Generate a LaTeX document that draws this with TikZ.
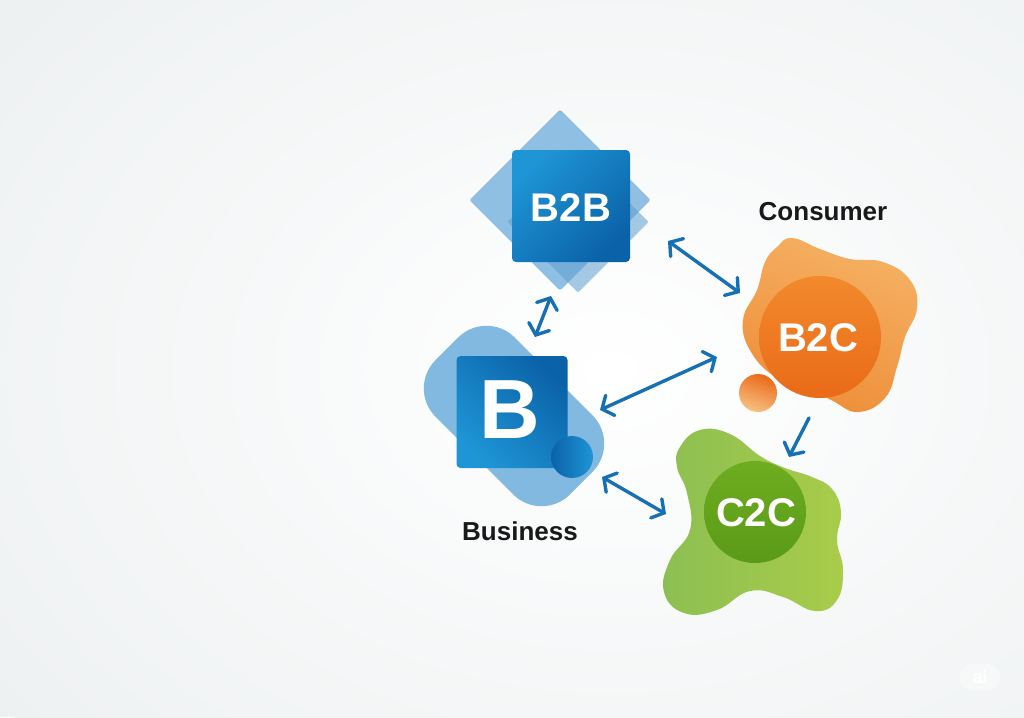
\documentclass[tikz,border=0pt]{standalone}
\usepackage{fontspec}
\setmainfont{Liberation Sans}
\usetikzlibrary{arrows.meta,shapes.geometric}
\definecolor{bg}{HTML}{EEF1F2}
\definecolor{arrowblue}{HTML}{1670B3}
\definecolor{bluelight}{HTML}{7DB5DE}
\definecolor{bluemid}{HTML}{5C9FD0}
\definecolor{blueA}{HTML}{1E95D5}
\definecolor{blueB}{HTML}{0B62A8}
\definecolor{orangeA}{HTML}{F5B163}
\definecolor{orangeB}{HTML}{EE8E38}
\definecolor{orangeC}{HTML}{F28A2C}
\definecolor{orangeD}{HTML}{EA6A18}
\definecolor{greenA}{HTML}{A9CC4A}
\definecolor{greenB}{HTML}{8CBF52}
\definecolor{greenC}{HTML}{6EAD20}
\definecolor{greenD}{HTML}{5A9A18}
\tikzset{
  link/.style={draw=arrowblue, line width=3.4pt, line cap=round,
    {Straight Barb[length=9pt,width=22pt,line cap=round]}-{Straight Barb[length=9pt,width=22pt,line cap=round]}},
  onelink/.style={draw=arrowblue, line width=3.4pt, line cap=round,
    -{Straight Barb[length=9pt,width=22pt,line cap=round]}},
  tile/.style={rectangle, rounded corners=4pt, inner sep=0pt,
    left color=blueA, right color=blueB, shading angle=45},
  bigtxt/.style={text=white, font=\fontsize{40}{40}\selectfont\bfseries},
  label/.style={text=black!90, font=\fontsize{26}{26}\selectfont\bfseries},
}
\begin{document}
\begin{tikzpicture}[x=1pt,y=-1pt]
\useasboundingbox (0,0) rectangle (1024,717);
\fill[bg] (0,0) rectangle (1024,717);
\shade[inner color=white, outer color=bg] (610,370) ellipse (760 and 560);

% ---------- B2B ----------
\node[rectangle, rotate=45, minimum size=128pt, fill=bluelight, fill opacity=0.85, rounded corners=2pt] (b2bback) at (560,200) {};
\node[rectangle, rotate=45, minimum size=100pt, fill=bluemid, fill opacity=0.55, rounded corners=2pt] (b2bmid) at (578,222) {};
\node[tile, minimum width=118pt, minimum height=112pt] (b2b) at (571,206) {};
\node[bigtxt] (b2btxt) at (571,208) {B2B};

% ---------- Business ----------
\node[rectangle, rotate=-45, minimum width=190pt, minimum height=112pt, rounded corners=40pt, fill=bluelight!90!blueA, fill opacity=0.9] (bpill) at (514,416) {};
\node[tile, minimum width=111pt, minimum height=112pt, left color=blueB, right color=blueA, shading angle=-45] (bus) at (512,412) {};
\node[text=white, font=\fontsize{84}{84}\selectfont\bfseries] (btxt) at (510,410) {B};
\node[circle, minimum size=42pt, inner sep=0pt, left color=blueB, right color=blueA] (bball) at (572,457) {};
\node[label] (busl) at (520,531) {Business};

% ---------- B2C ----------
\shade[top color=orangeA, bottom color=orangeB, shading angle=-20]
  plot[smooth cycle, tension=0.75] coordinates {
   (777,247) (792,238) (820,249) (850,259) (883,262) (910,280) (917,308)
   (905,337) (897,367) (885,398) (858,412) (833,401) (807,387) (777,378)
   (751,352) (743,320) (757,290) (765,262)};
\node[circle, minimum size=122pt, inner sep=0pt, top color=orangeC, bottom color=orangeD] (b2c) at (820,337) {};
\node[bigtxt] (b2ctxt) at (818,338) {B2C};
\node[circle, minimum size=38pt, inner sep=0pt, top color=orangeD, bottom color=orangeA!80!white, shading angle=-20] (oball) at (758,393) {};
\node[label] (cons) at (823,212) {Consumer};

% ---------- C2C ----------
\shade[left color=greenB, right color=greenA]
  plot[smooth cycle, tension=0.75] coordinates {
   (680,447) (700,430) (730,434) (760,456) (785,468) (812,477) (832,489)
   (841,512) (837,540) (843,570) (837,600) (815,611) (783,597) (750,591)
   (717,610) (684,613) (664,592) (670,560) (690,530) (687,493) (677,467)};
\node[circle, minimum size=102pt, inner sep=0pt, top color=greenC, bottom color=greenD] (c2c) at (755,512) {};
\node[bigtxt] (c2ctxt) at (756,513) {C2C};

% ---------- connectors ----------
\coordinate (e1a) at (551,296);
\coordinate (e1b) at (535,337);
\coordinate (e2a) at (668,241);
\coordinate (e2b) at (740,293);
\coordinate (e3a) at (600,410);
\coordinate (e3b) at (717,357);
\coordinate (e4a) at (809,418);
\coordinate (e4b) at (789,457);
\coordinate (e5a) at (602,477);
\coordinate (e5b) at (666,514);
\draw[link] (e1a) -- (e1b);
\draw[link] (e2a) -- (e2b);
\draw[link] (e3a) -- (e3b);
\draw[onelink] (e4a) -- (e4b);
\draw[link] (e5a) -- (e5b);

% ---------- watermark ----------
\node[rectangle, rounded corners=13pt, minimum width=40pt, minimum height=27pt, fill=white!55!bg, text=white, font=\fontsize{18}{18}\selectfont\bfseries] (wm) at (980,677) {ai};
\end{tikzpicture}
\end{document}
